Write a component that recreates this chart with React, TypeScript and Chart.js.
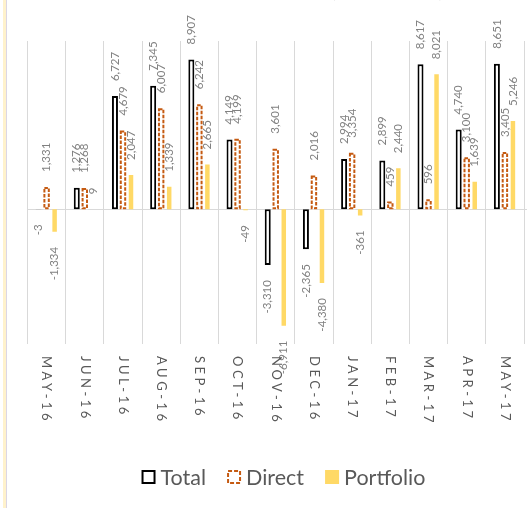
import React, { useEffect, useRef } from 'react';
import { Chart, registerables } from 'chart.js';

Chart.register(...registerables);

const categories = ['MAY-16', 'JUN-16', 'JUL-16', 'AUG-16', 'SEP-16', 'OCT-16', 'NOV-16', 'DEC-16', 'JAN-17', 'FEB-17', 'MAR-17', 'APR-17', 'MAY-17'];
const totalValues = [-3, 1276, 6727, 7345, 8907, 4149, -3310, -2365, 2994, 2899, 8617, 4740, 8651];
const directValues = [1331, 1268, 4679, 6007, 6242, 4199, 3601, 2016, 3354, 459, 596, 3100, 3405];
const portfolioValues = [-1334, 9, 2047, 1339, 2665, -49, -6911, -4380, -361, 2440, 8021, 1639, 5246];
const seriesNames = ['Total', 'Direct', 'Portfolio'];
const titleText = '(US$ million)';
const yMin = -8000;
const yMax = 10000;

const FONT = 'Lato, "Open Sans", sans-serif';
const ORANGE = '#C55A11';
const YELLOW = '#FFD966';
const GRID = '#D9D9D9';

const fmt = (v: number) => v.toLocaleString('en-US');

const decorPlugin = {
  id: 'decor',
  beforeDatasetsDraw(chart: any) {
    const { ctx, chartArea, scales } = chart;
    const y0 = Math.round(scales.y.getPixelForValue(0)) + 0.5;
    ctx.save();
    ctx.strokeStyle = GRID;
    ctx.lineWidth = 1;
    ctx.beginPath();
    ctx.moveTo(chartArea.left, y0);
    ctx.lineTo(chart.width, y0);
    ctx.stroke();
    ctx.restore();
  },
  afterDatasetsDraw(chart: any) {
    const { ctx } = chart;
    // dashed outline bars for "Direct"
    const dmeta = chart.getDatasetMeta(1);
    ctx.save();
    dmeta.data.forEach((el: any) => {
      const { x, y, base, width } = el.getProps(['x', 'y', 'base', 'width'], true);
      const left = x - width / 2;
      const top = Math.min(y, base);
      const h = Math.abs(base - y);
      ctx.fillStyle = '#ffffff';
      ctx.fillRect(left, top, width, h);
      ctx.setLineDash([3.5, 1.5]);
      ctx.lineWidth = 2;
      ctx.strokeStyle = ORANGE;
      ctx.strokeRect(left + 1, top + 1, Math.max(width - 2, 0), Math.max(h - 2, 0));
    });
    ctx.restore();

    // data labels
    ctx.save();
    ctx.font = `11.5px ${FONT}`;
    ctx.fillStyle = '#808080';
    ctx.textBaseline = 'middle';
    chart.data.datasets.forEach((ds: any, di: number) => {
      const meta = chart.getDatasetMeta(di);
      meta.data.forEach((el: any, i: number) => {
        const v = ds.data[i] as number;
        const { x, y } = el.getProps(['x', 'y'], true);
        ctx.save();
        if (v >= 0) {
          ctx.translate(x, y - 15);
          ctx.rotate(-Math.PI / 2);
          ctx.textAlign = 'left';
        } else {
          ctx.translate(x, y + 15);
          ctx.rotate(-Math.PI / 2);
          ctx.textAlign = 'right';
        }
        ctx.fillText(fmt(v), 0, 0);
        ctx.restore();
      });
    });
    ctx.restore();
  },
  afterDraw(chart: any) {
    const { ctx, chartArea, scales } = chart;
    // category labels, rotated clockwise
    ctx.save();
    ctx.font = `13px ${FONT}`;
    ctx.fillStyle = '#595959';
    ctx.textBaseline = 'middle';
    ctx.textAlign = 'left';
    try { (ctx as any).letterSpacing = '3.5px'; } catch (e) { /* ignore */ }
    categories.forEach((c, i) => {
      const x = scales.x.getPixelForTick(i);
      ctx.save();
      ctx.translate(x, chartArea.bottom + 12);
      ctx.rotate(Math.PI / 2);
      ctx.fillText(c, 0, 0);
      ctx.restore();
    });
    ctx.restore();

    // legend
    ctx.save();
    const fs = 21.5;
    ctx.font = `${fs}px ${FONT}`;
    ctx.textBaseline = 'middle';
    ctx.textAlign = 'left';
    const box = 14;
    const gap = 5;
    const itemGap = 21;
    const widths = seriesNames.map((n) => box + gap + ctx.measureText(n).width);
    const totalW = widths.reduce((a, b) => a + b, 0) + itemGap * (seriesNames.length - 1);
    let lx = 283.5 - totalW / 2;
    const cy = chart.height - 31;
    seriesNames.forEach((n, i) => {
      const bx = lx;
      const by = cy - box / 2;
      if (i === 0) {
        ctx.fillStyle = '#fff';
        ctx.fillRect(bx, by, box, box);
        ctx.strokeStyle = '#000';
        ctx.lineWidth = 2;
        ctx.setLineDash([]);
        ctx.strokeRect(bx + 1, by + 1, box - 2, box - 2);
      } else if (i === 1) {
        ctx.strokeStyle = ORANGE;
        ctx.lineWidth = 2;
        ctx.setLineDash([4, 2]);
        ctx.strokeRect(bx + 1, by + 1, box - 2, box - 2);
        ctx.setLineDash([]);
      } else {
        ctx.fillStyle = YELLOW;
        ctx.fillRect(bx, by, box, box);
      }
      ctx.fillStyle = '#595959';
      ctx.fillText(n, bx + box + gap, cy + 1);
      lx += widths[i] + itemGap;
    });
    ctx.restore();
  },
};

export default function App() {
  const canvasRef = useRef<HTMLCanvasElement | null>(null);

  useEffect(() => {
    if (!canvasRef.current) return;
    const chart = new Chart(canvasRef.current, {
      type: 'bar',
      data: {
        labels: categories,
        datasets: [
          {
            label: seriesNames[0],
            data: totalValues,
            backgroundColor: '#ffffff',
            borderColor: '#000000',
            borderWidth: 2,
            borderSkipped: false,
            categoryPercentage: 0.63,
            barPercentage: 0.75,
          } as any,
          {
            label: seriesNames[1],
            data: directValues,
            backgroundColor: 'rgba(0,0,0,0)',
            borderWidth: 0,
            categoryPercentage: 0.63,
            barPercentage: 0.8,
          } as any,
          {
            label: seriesNames[2],
            data: portfolioValues,
            backgroundColor: YELLOW,
            borderWidth: 0,
            categoryPercentage: 0.63,
            barPercentage: 0.56,
          } as any,
        ],
      },
      options: {
        animation: false,
        responsive: false,
        devicePixelRatio: 1,
        layout: { padding: { left: 27.5, right: 3, top: 41, bottom: 164 } },
        plugins: {
          legend: { display: false },
          title: { display: false },
          tooltip: { enabled: false },
        },
        scales: {
          x: {
            grid: { offset: true, color: GRID, lineWidth: 1, drawTicks: false },
            border: { display: false },
            ticks: { display: false },
            afterFit: (s: any) => { s.height = 0; },
          } as any,
          y: {
            display: false,
            min: yMin,
            max: yMax,
          },
        },
      },
      plugins: [decorPlugin],
    });
    return () => chart.destroy();
  }, []);

  return (
    <div style={{ position: 'absolute', left: 0, top: 0, width: 527, height: 508, overflow: 'hidden', background: '#ffffff' }}>
      <canvas ref={canvasRef} width={527} height={508} style={{ position: 'absolute', left: 0, top: 0, width: 527, height: 508 }} />
      <div style={{ position: 'absolute', left: 3, top: 0, width: 3, height: 508, background: '#FFF2CC' }} />
      <div style={{ position: 'absolute', left: 6, top: 0, width: 1, height: 508, background: '#DCD6E4' }} />
      <div style={{ position: 'absolute', left: 331, top: -23, whiteSpace: 'nowrap', font: `bold 20px/24px ${FONT}`, color: '#595959' }}>{titleText}</div>
    </div>
  );
}
